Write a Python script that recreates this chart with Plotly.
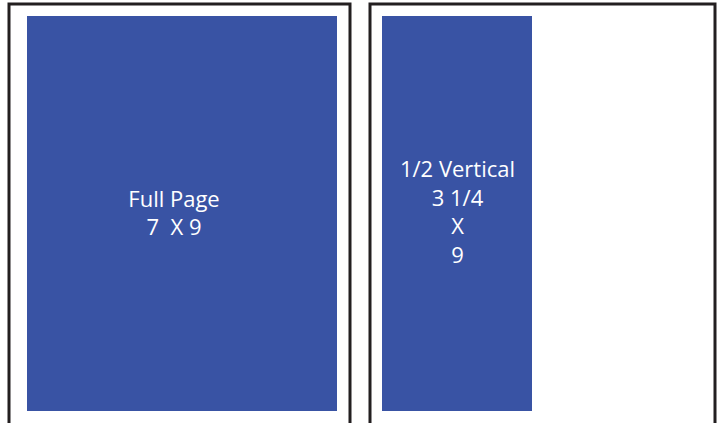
import plotly.graph_objects as go

# Page outlines (pixel-space coordinates of the drawing: x0, x1, y0, y1)
page_x0 = [9, 370]
page_x1 = [350, 715]
page_y0 = [4, 4]
page_y1 = [440, 440]

# Ad blocks
ad_labels = ["Full Page<br>7  X 9", "1/2 Vertical<br>3 1/4<br>X<br>9"]
ad_x0 = [27, 382]
ad_x1 = [337, 532]
ad_y0 = [16, 16]
ad_y1 = [411, 411]
ad_text_x = [174, 457.5]
ad_text_y = [215.5, 214.5]

BLUE = "#3953a4"
LINE = "#231f20"

fig = go.Figure()

shapes = []
for x0, x1, y0, y1 in zip(page_x0, page_x1, page_y0, page_y1):
    shapes.append(dict(type="rect", xref="x", yref="y", x0=x0, x1=x1, y0=y0, y1=y1,
                       line=dict(color=LINE, width=3), fillcolor="rgba(0,0,0,0)", layer="above"))
for x0, x1, y0, y1 in zip(ad_x0, ad_x1, ad_y0, ad_y1):
    shapes.append(dict(type="rect", xref="x", yref="y", x0=x0, x1=x1, y0=y0, y1=y1,
                       line=dict(width=0), fillcolor=BLUE, layer="below"))

fig.add_trace(go.Scatter(x=ad_text_x, y=ad_text_y, mode="text", text=ad_labels,
                         textfont=dict(family="Open Sans", size=22, color="white"),
                         hoverinfo="skip", showlegend=False))

fig.update_layout(
    width=719, height=423,
    margin=dict(l=0, r=0, t=0, b=0),
    paper_bgcolor="white", plot_bgcolor="white",
    shapes=shapes,
    xaxis=dict(range=[0, 719], visible=False, fixedrange=True),
    yaxis=dict(range=[423, 0], visible=False, fixedrange=True),
)

fig.write_html("out.html", config={"displayModeBar": False},
               post_script="document.body.style.margin='0';document.body.style.overflow='hidden';")
